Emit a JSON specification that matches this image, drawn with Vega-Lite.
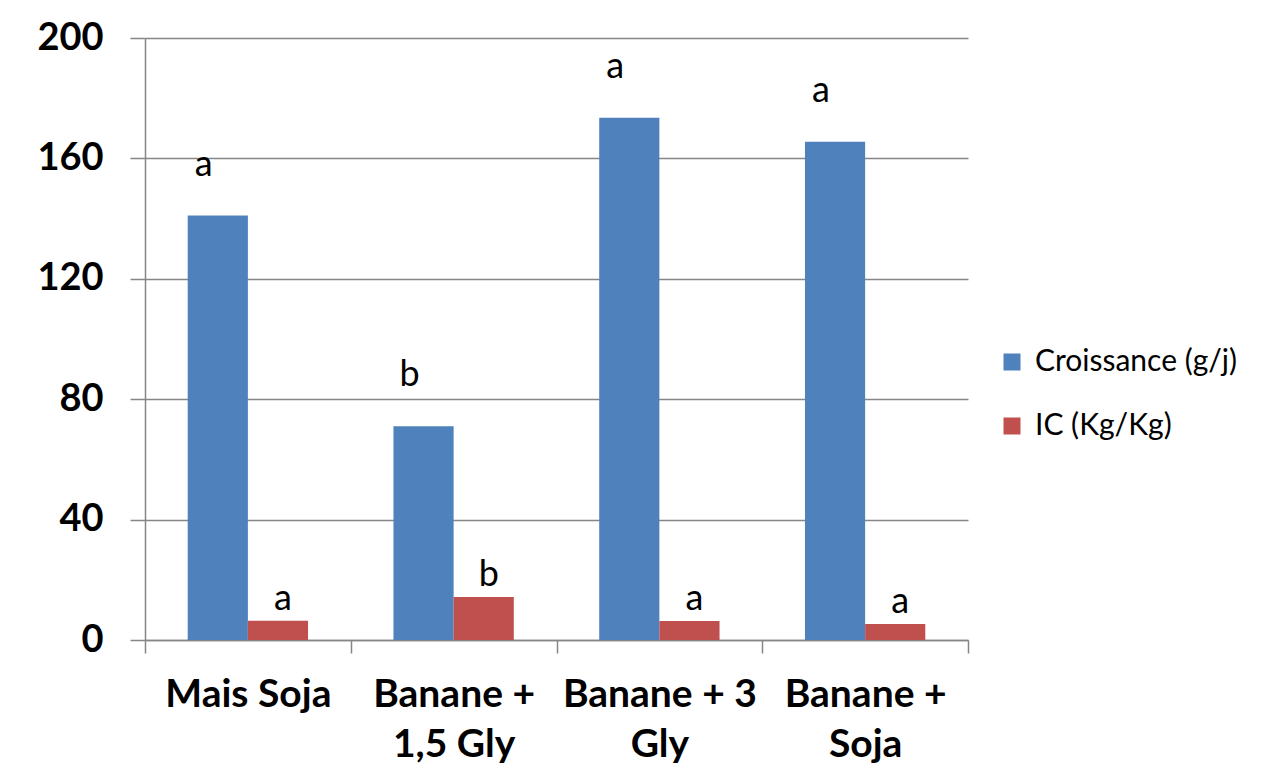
{
  "$schema": "https://vega.github.io/schema/vega-lite/v6.json",
  "width": 823,
  "height": 602,
  "autosize": "none",
  "padding": {"left": 145, "top": 38, "right": 299, "bottom": 131},
  "background": "white",
  "data": {
    "values": [
      {"cat": "Mais Soja", "series": "Croissance (g/j)", "value": 141, "letter": "a"},
      {"cat": "Mais Soja", "series": "IC (Kg/Kg)", "value": 6.4, "letter": "a"},
      {"cat": "Banane +|1,5 Gly", "series": "Croissance (g/j)", "value": 71, "letter": "b"},
      {"cat": "Banane +|1,5 Gly", "series": "IC (Kg/Kg)", "value": 14.3, "letter": "b"},
      {"cat": "Banane + 3|Gly", "series": "Croissance (g/j)", "value": 173.5, "letter": "a"},
      {"cat": "Banane + 3|Gly", "series": "IC (Kg/Kg)", "value": 6.3, "letter": "a"},
      {"cat": "Banane +|Soja", "series": "Croissance (g/j)", "value": 165.5, "letter": "a"},
      {"cat": "Banane +|Soja", "series": "IC (Kg/Kg)", "value": 5.3, "letter": "a"}
    ]
  },
  "encoding": {
    "x": {
      "field": "cat", "type": "nominal", "sort": null, "title": null,
      "scale": {"paddingInner": 0, "paddingOuter": 0},
      "axis": {
        "labelAngle": 0,
        "labelExpr": "split(datum.label, '|')",
        "labelFont": "Lato", "labelFontWeight": "bold", "labelFontSize": 39,
        "labelColor": "black", "labelLineHeight": 50, "labelLimit": 0,
        "labelPadding": 22,
        "tickBand": "extent", "tickSize": 13, "tickWidth": 1.5,
        "tickColor": "#868686", "domainColor": "#868686", "domainWidth": 1.5,
        "grid": false
      }
    },
    "xOffset": {
      "field": "series", "type": "nominal", "sort": ["Croissance (g/j)", "IC (Kg/Kg)"],
      "scale": {"paddingInner": 0, "paddingOuter": 0.71}
    },
    "y": {
      "field": "value", "type": "quantitative", "title": null,
      "scale": {"domain": [0, 200], "nice": false},
      "axis": {
        "values": [0, 40, 80, 120, 160, 200],
        "labelFont": "Lato", "labelFontWeight": "bold", "labelFontSize": 38,
        "labelColor": "black", "labelPadding": 27,
        "tickSize": 15, "tickWidth": 1.5, "tickColor": "#868686",
        "domainColor": "#868686", "domainWidth": 1.5,
        "grid": true, "gridColor": "#868686", "gridWidth": 1.5
      }
    }
  },
  "layer": [
    {
      "mark": {"type": "bar"},
      "encoding": {
        "color": {
          "field": "series", "type": "nominal",
          "scale": {"domain": ["Croissance (g/j)", "IC (Kg/Kg)"], "range": ["#4F81BD", "#C0504D"]},
          "legend": {
            "title": null, "orient": "none", "legendX": 852, "legendY": 309,
            "symbolType": "square", "symbolSize": 289, "symbolStrokeWidth": 0,
            "labelFont": "Lato", "labelFontSize": 30, "labelColor": "black",
            "labelOffset": 8, "rowPadding": 34, "labelLimit": 0
          }
        }
      }
    },
    {
      "transform": [{"filter": "datum.series == 'Croissance (g/j)'"}],
      "mark": {"type": "text", "baseline": "alphabetic", "dy": -40, "dx": -14, "font": "Lato", "fontSize": 36, "color": "black"},
      "encoding": {"text": {"field": "letter"}}
    },
    {
      "transform": [{"filter": "datum.series == 'IC (Kg/Kg)'"}],
      "mark": {"type": "text", "baseline": "alphabetic", "dy": -11, "dx": 5, "font": "Lato", "fontSize": 36, "color": "black"},
      "encoding": {"text": {"field": "letter"}}
    }
  ],
  "config": {"view": {"stroke": null}}
}
